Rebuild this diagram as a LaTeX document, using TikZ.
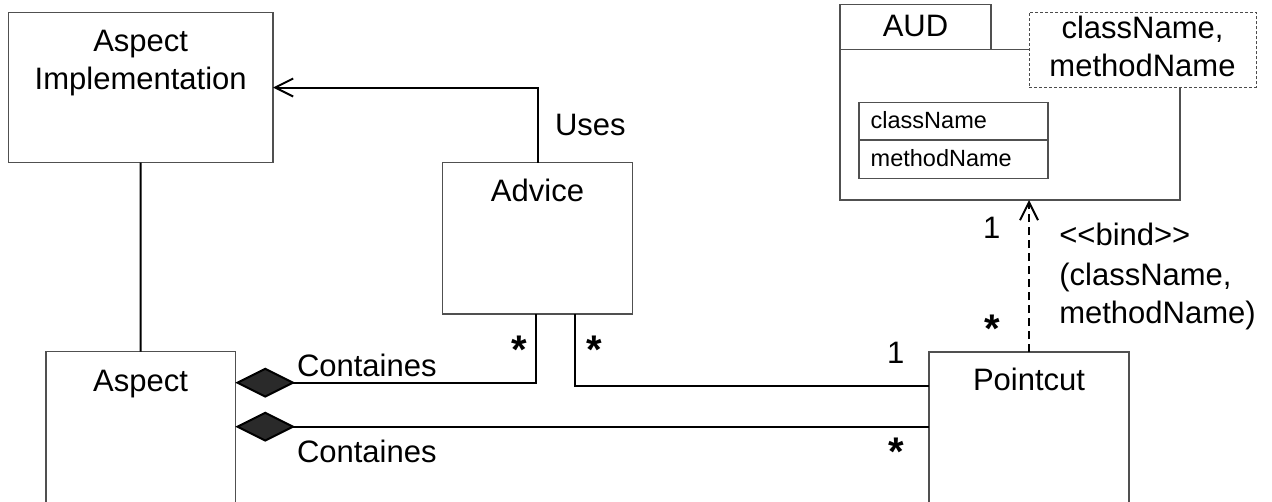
\documentclass[tikz,border=0pt]{standalone}
\usepackage{fontspec}
\setmainfont{Liberation Sans}
\usetikzlibrary{arrows.meta,calc}
\definecolor{boxline}{HTML}{505050}
\definecolor{diafill}{HTML}{2A2A2A}
\begin{document}
\begin{tikzpicture}[x=1pt,y=-1pt,
  umlbox/.style={draw=boxline, line width=1.3pt, fill=white, rectangle, anchor=north west, inner sep=0pt, outer sep=0pt},
  tplbox/.style={umlbox, draw=black!70, line width=1pt, dash pattern=on 3pt off 2pt},
  conn/.style={draw=black, line width=2pt},
  txt/.style={inner sep=0pt, outer sep=0pt, anchor=base, font=\fontsize{31}{37.5}\selectfont},
  startxt/.style={inner sep=0pt, outer sep=0pt, anchor=base, font=\fontsize{40}{40}\selectfont\bfseries},
  smalltxt/.style={inner sep=0pt, outer sep=0pt, anchor=base west, font=\fontsize{23.5}{28}\selectfont},
  openarrow/.style={arrows={-Straight Barb[length=18pt,width=18pt]}},
  dia/.style={arrows={Diamond[length=60pt,width=30pt,fill=diafill]-}}
]
\clip (0,0) rectangle (1272,501);
\useasboundingbox (0,0) rectangle (1272,501);
\fill[white] (0,0) rectangle (1272,501);

% boxes
\node[umlbox, minimum width=264.6pt, minimum height=150.4pt] (ai) at (8.4,12.3) {};
\node[umlbox, minimum width=189.6pt, minimum height=151.3pt] (adv) at (442.7,162.7) {};
\node[umlbox, minimum width=189.3pt, minimum height=220pt] (asp) at (46,351.7) {};
\node[umlbox, minimum width=200pt, minimum height=220pt] (pc) at (929,352) {};

% AUD package
\node[umlbox, minimum width=340pt, minimum height=150.7pt] (aud) at (840,49.3) {};
\node[umlbox, minimum width=151pt, minimum height=45pt] (audtab) at (840,4.3) {};
\node[tplbox, minimum width=227pt, minimum height=75pt] (tpl) at (1029,12.3) {};
\node[umlbox, minimum width=189pt, minimum height=37.3pt] (cnbox) at (859,102.7) {};
\node[umlbox, minimum width=189pt, minimum height=38.3pt] (mnbox) at (859,140) {};

% texts
\node[txt] (ait1) at (140.7,51.7) {Aspect};
\node[txt] (ait2) at (140.7,89) {Implementation};
\node[txt] (advt) at (537.5,201) {Advice};
\node[txt, anchor=base west] (uses) at (555,135) {Uses};
\node[txt] (aspt) at (140.5,391) {Aspect};
\node[txt] (pct) at (1029,390) {Pointcut};
\node[txt, anchor=base west] (cont1) at (297,376) {Containes};
\node[txt, anchor=base west] (cont2) at (297,462.3) {Containes};
\node[txt] (audt) at (915.5,36.7) {AUD};
\node[txt] (tpl1) at (1142.5,38.3) {className,};
\node[txt] (tpl2) at (1142.5,76.7) {methodName};
\node[smalltxt] (cnt) at (870.7,128.3) {className};
\node[smalltxt] (mnt) at (870.7,166.7) {methodName};
\node[txt, anchor=base west] (bind1) at (1059.3,245) {<\kern0pt<bind>\kern0pt>};
\node[txt, anchor=base west] (bind2) at (1059.3,285) {(className,};
\node[txt, anchor=base west] (bind3) at (1059.3,323.3) {methodName)};

% multiplicities
\node[startxt] (m1) at (519,363.3) {*};
\node[startxt] (m2) at (594.3,363.3) {*};
\node[txt] (m3) at (895.8,363.3) {1};
\node[startxt] (m4) at (896.7,465.7) {*};
\node[txt] (m5) at (991.7,238.3) {1};
\node[startxt] (m6) at (992.3,342.3) {*};

% connectors
\draw[conn, openarrow] (adv.north) |- (ai.east);
\draw[conn] (ai.south) -- (asp.north);
\draw[conn, dia] ($(asp.north east)+(0,31)$) -| ($(adv.south)+(-1.5,0)$);
\draw[conn] ($(adv.south)+(37.5,0)$) |- ($(pc.north west)+(0,34)$);
\draw[conn, dia] ($(asp.north east)+(0,75)$) -- ($(pc.north west)+(0,74.7)$);
\draw[conn, dash pattern=on 8pt off 5pt, openarrow] (pc.north) -- (pc.north |- aud.south);
\end{tikzpicture}
\end{document}
